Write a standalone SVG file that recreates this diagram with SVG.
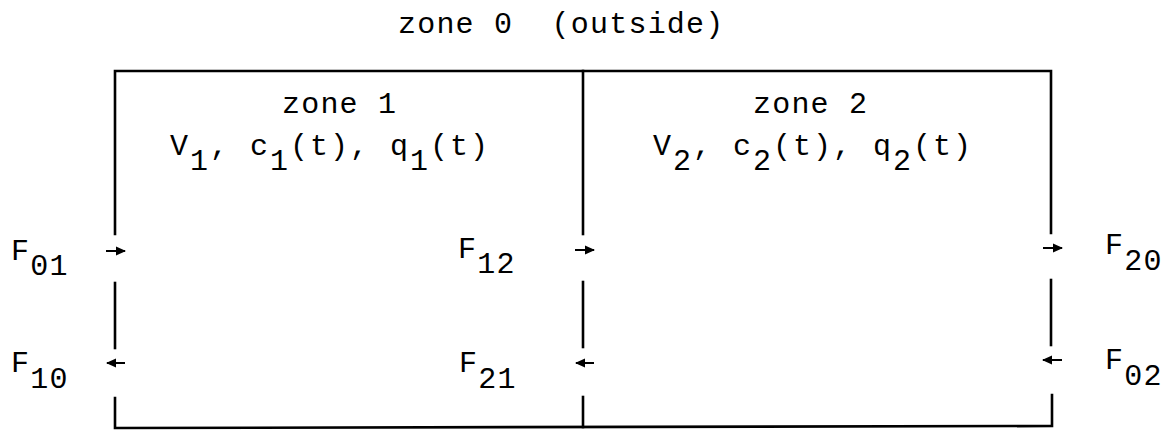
<svg xmlns="http://www.w3.org/2000/svg" width="1166" height="431" viewBox="0 0 1166 431">
<style>
  .t { font-family: "Liberation Mono", "Courier New", monospace; font-size: 30px; fill: #000; letter-spacing: 1.2px; }
  .v { letter-spacing: 2px; }
  .wall { stroke: #000; stroke-width: 2.6; fill: none; stroke-linecap: square; }
  .arr { stroke: #000; stroke-width: 2; fill: none; marker-end: url(#ah); }
</style>
<defs>
  <marker id="ah" viewBox="0 0 10 10" refX="9" refY="5" markerWidth="5" markerHeight="5" orient="auto" markerUnits="strokeWidth">
    <path d="M0,0.5 L10,5 L0,9.5 z" fill="#000"/>
  </marker>
</defs>
<rect width="1166" height="431" fill="#fff"/>

<g id="zone0">
  <text class="t" x="398" y="33" xml:space="preserve">zone 0  (outside)</text>
</g>

<g id="walls">
  <path class="wall" d="M115,234 L115,71 L1051,71 L1051,233"/>
  <path class="wall" d="M583,71 L583,234"/>
  <path class="wall" d="M115,283 L115,348"/>
  <path class="wall" d="M583,282 L583,347"/>
  <path class="wall" d="M1051,280 L1051,345"/>
  <path class="wall" d="M115,398 L115,428 L1052,426 L1052,395"/>
  <path class="wall" d="M583,397 L583,427"/>
</g>

<g id="zone1">
  <text class="t" x="282" y="113">zone 1</text>
  <text class="t v" x="170" y="155">V<tspan dy="15">1</tspan><tspan dy="-15">, c</tspan><tspan dy="15">1</tspan><tspan dy="-15">(t), q</tspan><tspan dy="15">1</tspan><tspan dy="-15">(t)</tspan></text>
</g>

<g id="zone2">
  <text class="t" x="753" y="113">zone 2</text>
  <text class="t v" x="653" y="155">V<tspan dy="15">2</tspan><tspan dy="-15">, c</tspan><tspan dy="15">2</tspan><tspan dy="-15">(t), q</tspan><tspan dy="15">2</tspan><tspan dy="-15">(t)</tspan></text>
</g>

<g id="connectors">
  <path class="arr" d="M106,251 L125,251"/>
  <path class="arr" d="M125,363 L107,363"/>
  <path class="arr" d="M575,250 L594,250"/>
  <path class="arr" d="M594,363 L576,363"/>
  <path class="arr" d="M1043,248 L1062,248"/>
  <path class="arr" d="M1062,360 L1043,360"/>
</g>

<g id="labels">
  <text class="t" x="11" y="260">F<tspan dy="15">01</tspan></text>
  <text class="t" x="11" y="372">F<tspan dy="16">10</tspan></text>
  <text class="t" x="458" y="258">F<tspan dy="15">12</tspan></text>
  <text class="t" x="459" y="372">F<tspan dy="16">21</tspan></text>
  <text class="t" x="1105" y="254">F<tspan dy="16">20</tspan></text>
  <text class="t" x="1105" y="369">F<tspan dy="16">02</tspan></text>
</g>
</svg>
